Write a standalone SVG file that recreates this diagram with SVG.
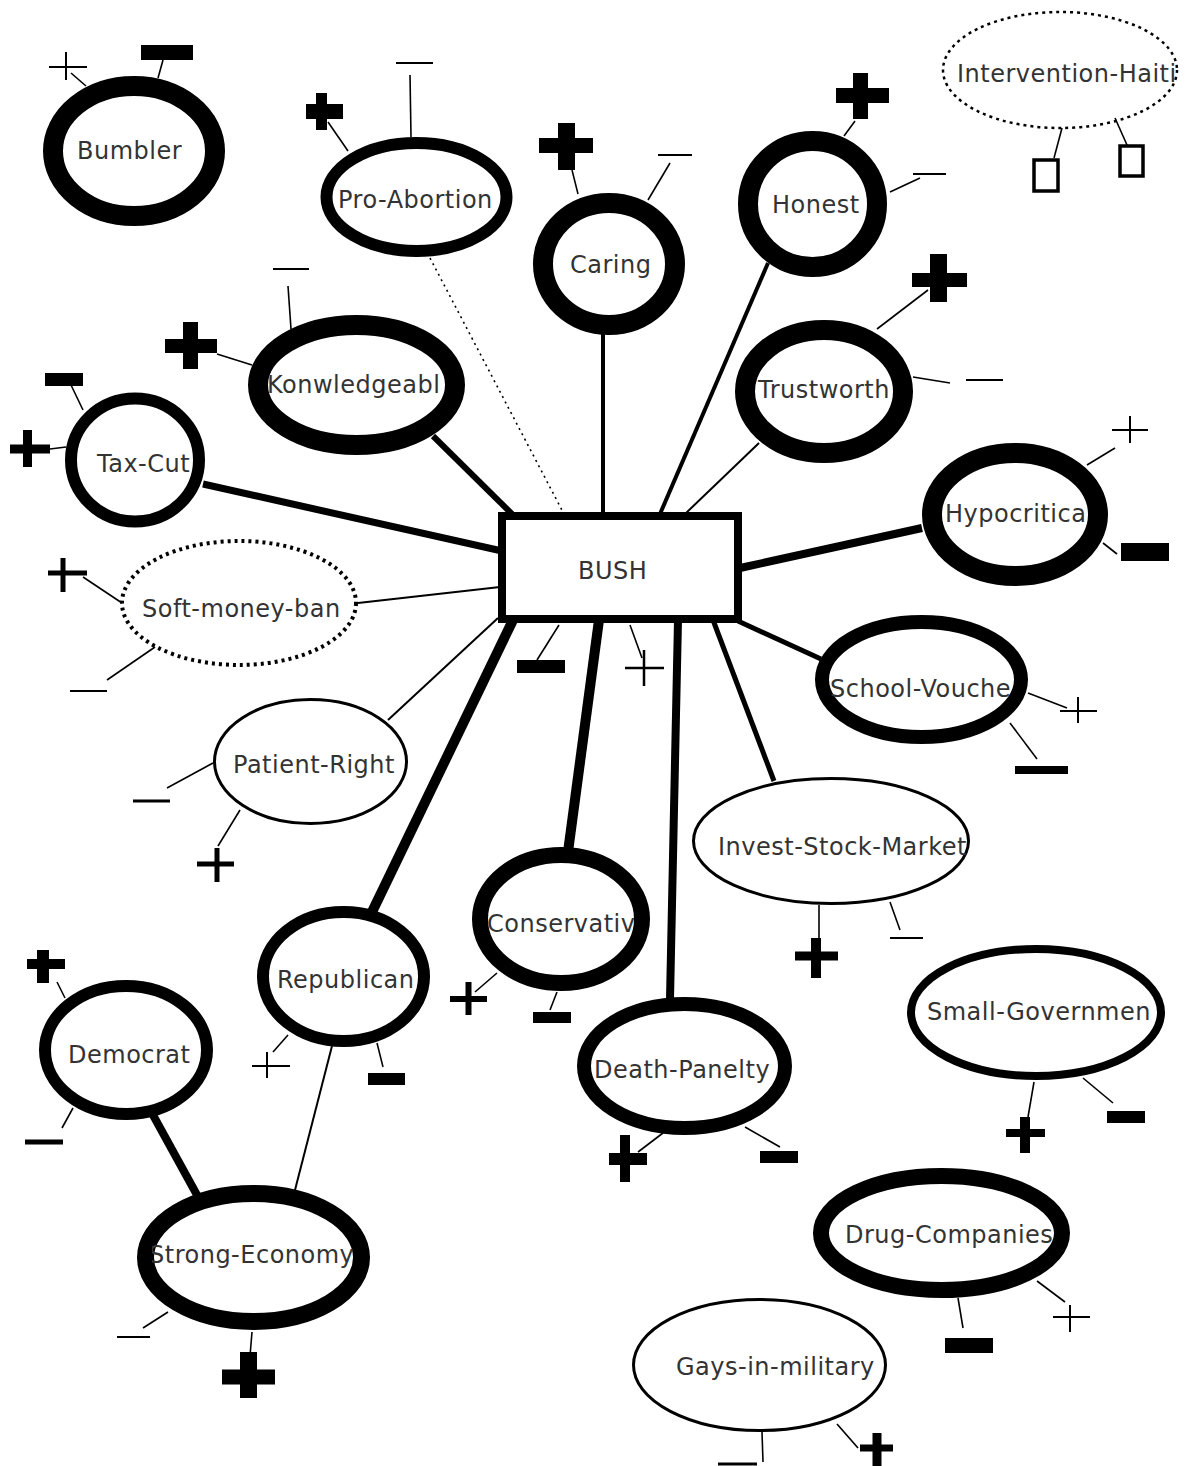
<svg xmlns="http://www.w3.org/2000/svg" width="1190" height="1466" viewBox="0 0 1190 1466">
<style>
.bg{fill:#fff}
.n{fill:#fff;stroke:#000}
.t{font-family:"DejaVu Sans","Liberation Sans",sans-serif;font-size:24px;letter-spacing:0.5px;fill:#333}
.c{stroke:#000;fill:none;stroke-linecap:butt}
.k{stroke:#000;fill:none;stroke-width:1.6}
.s{stroke:#000;fill:none;stroke-linecap:butt}
.box{fill:none;stroke:#000;stroke-width:3.5}
</style>
<defs>
<clipPath id="cpSE"><rect x="152" y="1200" width="220" height="120"/></clipPath>
<clipPath id="cpIS"><rect x="690" y="800" width="278" height="90"/></clipPath>
<clipPath id="cpDC"><rect x="820" y="1190" width="237" height="90"/></clipPath>
<clipPath id="cpIH"><rect x="940" y="40" width="240" height="70"/></clipPath>
</defs>
<rect class="bg" x="0" y="0" width="1190" height="1466"/>

<g id="connectors">
<line class="c" x1="203" y1="484" x2="502" y2="551" stroke-width="7"/>
<line class="c" x1="433" y1="436" x2="512" y2="514" stroke-width="6"/>
<line class="c" x1="430" y1="258" x2="564" y2="514" stroke-width="1.6" stroke-dasharray="2 4"/>
<line class="c" x1="603" y1="334" x2="603" y2="514" stroke-width="4"/>
<line class="c" x1="768" y1="263" x2="660" y2="514" stroke-width="4"/>
<line class="c" x1="759" y1="443" x2="685" y2="514" stroke-width="2"/>
<line class="c" x1="740" y1="568" x2="922" y2="528" stroke-width="8"/>
<line class="c" x1="358" y1="603" x2="500" y2="587" stroke-width="2"/>
<line class="c" x1="388" y1="720" x2="498" y2="618" stroke-width="2"/>
<line class="c" x1="513" y1="620" x2="372" y2="912" stroke-width="10"/>
<line class="c" x1="599" y1="620" x2="568" y2="852" stroke-width="10"/>
<line class="c" x1="678" y1="620" x2="670" y2="999" stroke-width="8"/>
<line class="c" x1="713" y1="620" x2="774" y2="781" stroke-width="5"/>
<line class="c" x1="738" y1="621" x2="821" y2="659" stroke-width="5"/>
<line class="c" x1="332" y1="1046" x2="295" y2="1190" stroke-width="2"/>
<line class="c" x1="153" y1="1115" x2="197" y2="1195" stroke-width="8"/>
</g>

<g id="bumbler">
<ellipse class="n" cx="134" cy="151" rx="81" ry="65" stroke-width="20"/>
<text class="t" x="77" y="159">Bumbler</text>
<path class="s" d="M49 67H87M66 52V80" stroke-width="2"/>
<line class="k" x1="71" y1="73" x2="86" y2="86"/>
<path class="s" d="M141 52.5H193" stroke-width="15"/>
<line class="k" x1="163" y1="60" x2="158" y2="78"/>
</g>

<g id="pro-abortion">
<ellipse class="n" cx="416.5" cy="197" rx="90" ry="54" stroke-width="12"/>
<text class="t" x="338" y="208">Pro-Abortion</text>
<path class="s" d="M306 111.5H343" stroke-width="15"/>
<path class="s" d="M321.5 93V130" stroke-width="11"/>
<line class="k" x1="328" y1="122" x2="348" y2="151"/>
<path class="s" d="M396 63H433" stroke-width="2"/>
<line class="k" x1="410" y1="75" x2="411" y2="137"/>
</g>

<g id="caring">
<ellipse class="n" cx="609" cy="264" rx="66" ry="61" stroke-width="20"/>
<text class="t" x="570" y="273">Caring</text>
<path class="s" d="M539 145.5H593" stroke-width="15"/>
<path class="s" d="M566.5 123V170" stroke-width="17"/>
<line class="k" x1="572" y1="170" x2="578" y2="194"/>
<path class="s" d="M658 155H692" stroke-width="2"/>
<line class="k" x1="670" y1="163" x2="648" y2="200"/>
</g>

<g id="honest">
<ellipse class="n" cx="812.5" cy="204" rx="64.5" ry="63" stroke-width="20"/>
<text class="t" x="772" y="213">Honest</text>
<path class="s" d="M836 95.5H889" stroke-width="15"/>
<path class="s" d="M860.5 73V119" stroke-width="15"/>
<line class="k" x1="855" y1="121" x2="844" y2="136"/>
<path class="s" d="M913 174H946" stroke-width="2"/>
<line class="k" x1="920" y1="178" x2="890" y2="192"/>
</g>

<g id="intervention-haiti">
<ellipse class="n" cx="1060" cy="70" rx="117" ry="58" stroke-width="2.5" stroke-dasharray="3 4"/>
<text class="t" x="957" y="82" clip-path="url(#cpIH)">Intervention-Haiti</text>
<rect class="box" x="1034" y="160" width="24" height="31"/>
<rect class="box" x="1120" y="146" width="23" height="30"/>
<line class="k" x1="1062" y1="128" x2="1054" y2="158"/>
<line class="k" x1="1115" y1="118" x2="1127" y2="145"/>
</g>

<g id="konwledgeable">
<ellipse class="n" cx="356.5" cy="385" rx="98.5" ry="60" stroke-width="20"/>
<text class="t" x="267" y="393">Konwledgeabl</text>
<path class="s" d="M165 346H217" stroke-width="14"/>
<path class="s" d="M190.5 322V369" stroke-width="15"/>
<line class="k" x1="217" y1="354" x2="252" y2="365"/>
<path class="s" d="M273 269H309" stroke-width="2"/>
<line class="k" x1="288" y1="286" x2="291" y2="329"/>
</g>

<g id="tax-cut">
<ellipse class="n" cx="135" cy="460" rx="64" ry="61.5" stroke-width="12"/>
<text class="t" x="97" y="472">Tax-Cut</text>
<path class="s" d="M45 379.5H83" stroke-width="13"/>
<line class="k" x1="71" y1="385" x2="83" y2="410"/>
<path class="s" d="M10 449H50M27.5 430V467" stroke-width="9"/>
<line class="k" x1="50" y1="449" x2="66" y2="447"/>
</g>

<g id="soft-money-ban">
<ellipse class="n" cx="239" cy="603" rx="117" ry="62" stroke-width="4" stroke-dasharray="3 4"/>
<text class="t" x="142" y="617">Soft-money-ban</text>
<path class="s" d="M48 573H87M63 558V592" stroke-width="5"/>
<line class="k" x1="83" y1="577" x2="122" y2="603"/>
<path class="s" d="M70 691H107" stroke-width="2"/>
<line class="k" x1="107" y1="680" x2="155" y2="647"/>
</g>

<g id="patient-right">
<ellipse class="n" cx="310.5" cy="761.5" rx="96" ry="62" stroke-width="3"/>
<text class="t" x="233" y="773">Patient-Right</text>
<path class="s" d="M133 801H170" stroke-width="3"/>
<line class="k" x1="167" y1="788" x2="213" y2="763"/>
<path class="s" d="M197 864H234M217 848V882" stroke-width="5"/>
<line class="k" x1="218" y1="846" x2="240" y2="810"/>
</g>

<g id="bush">
<rect class="n" x="502" y="516" width="236" height="103" stroke-width="8"/>
<text class="t" x="578" y="579">BUSH</text>
<path class="s" d="M517 666.5H565" stroke-width="13"/>
<line class="k" x1="537" y1="660" x2="559" y2="625"/>
<path class="s" d="M625 668H664M644 650V686" stroke-width="2.5"/>
<line class="k" x1="642" y1="658" x2="630" y2="625"/>
</g>

<g id="trustworth">
<ellipse class="n" cx="824" cy="391.5" rx="79" ry="61.5" stroke-width="20"/>
<text class="t" x="758" y="398">Trustworth</text>
<path class="s" d="M912 280H967" stroke-width="14"/>
<path class="s" d="M938.5 254V302" stroke-width="17"/>
<line class="k" x1="928" y1="290" x2="877" y2="329"/>
<path class="s" d="M966 380H1003" stroke-width="2"/>
<line class="k" x1="913" y1="377" x2="950" y2="383"/>
</g>

<g id="hypocritical">
<ellipse class="n" cx="1015" cy="514.5" rx="83" ry="61.5" stroke-width="20"/>
<text class="t" x="945" y="522">Hypocritica</text>
<path class="s" d="M1112 430H1148M1130 416V443" stroke-width="2"/>
<line class="k" x1="1115" y1="448" x2="1087" y2="465"/>
<path class="s" d="M1121 552H1169" stroke-width="18"/>
<line class="k" x1="1117" y1="554" x2="1103" y2="543"/>
</g>

<g id="school-voucher">
<ellipse class="n" cx="921.5" cy="679.5" rx="99.5" ry="57.5" stroke-width="14"/>
<text class="t" x="830" y="697">School-Vouche</text>
<path class="s" d="M1060 711H1097M1078 697V723" stroke-width="2"/>
<line class="k" x1="1028" y1="693" x2="1067" y2="708"/>
<path class="s" d="M1015 770H1068" stroke-width="8"/>
<line class="k" x1="1037" y1="759" x2="1010" y2="723"/>
</g>

<g id="invest-stock-market">
<ellipse class="n" cx="831" cy="841" rx="137.5" ry="62.5" stroke-width="3"/>
<text class="t" x="718" y="855" clip-path="url(#cpIS)">Invest-Stock-Market</text>
<path class="s" d="M795 956H838" stroke-width="9"/>
<path class="s" d="M816 938V978" stroke-width="10"/>
<line class="k" x1="819" y1="905" x2="819" y2="938" stroke-width="2"/>
<path class="s" d="M890 938H923" stroke-width="2"/>
<line class="k" x1="900" y1="930" x2="890" y2="902"/>
</g>

<g id="republican">
<ellipse class="n" cx="343.5" cy="976.5" rx="80.5" ry="64.5" stroke-width="12"/>
<text class="t" x="277" y="988">Republican</text>
<path class="s" d="M252 1066H290M267 1052V1078" stroke-width="2"/>
<line class="k" x1="273" y1="1052" x2="288" y2="1035"/>
<path class="s" d="M368 1079H405" stroke-width="12"/>
<line class="k" x1="383" y1="1067" x2="377" y2="1043"/>
</g>

<g id="democrat">
<ellipse class="n" cx="126" cy="1050" rx="81" ry="64" stroke-width="12"/>
<text class="t" x="68" y="1063">Democrat</text>
<path class="s" d="M27 964H65" stroke-width="10"/>
<path class="s" d="M43 950V983" stroke-width="12"/>
<line class="k" x1="57" y1="982" x2="65" y2="998"/>
<path class="s" d="M25 1142H63" stroke-width="5"/>
<line class="k" x1="62" y1="1128" x2="73" y2="1108"/>
</g>

<g id="strong-economy">
<ellipse class="n" cx="253.5" cy="1257.5" rx="108" ry="64" stroke-width="17"/>
<text class="t" x="149" y="1263" clip-path="url(#cpSE)">Strong-Economy</text>
<path class="s" d="M117 1337H150" stroke-width="2"/>
<line class="k" x1="143" y1="1328" x2="168" y2="1312"/>
<path class="s" d="M222 1377H275" stroke-width="15"/>
<path class="s" d="M248.5 1352V1398" stroke-width="17"/>
<line class="k" x1="252" y1="1332" x2="250" y2="1356"/>
</g>

<g id="conservativ">
<ellipse class="n" cx="561" cy="919" rx="81" ry="64" stroke-width="16"/>
<text class="t" x="487" y="932">Conservativ</text>
<path class="s" d="M450 999H487M468.5 982V1015" stroke-width="6"/>
<line class="k" x1="475" y1="992" x2="497" y2="973"/>
<path class="s" d="M533 1017.5H571" stroke-width="11"/>
<line class="k" x1="550" y1="1010" x2="557" y2="992"/>
</g>

<g id="death-panelty">
<ellipse class="n" cx="684.5" cy="1066" rx="100.5" ry="62" stroke-width="14"/>
<text class="t" x="594" y="1078">Death-Panelty</text>
<path class="s" d="M609 1159H647" stroke-width="12"/>
<path class="s" d="M625 1135V1182" stroke-width="10"/>
<line class="k" x1="638" y1="1152" x2="663" y2="1133"/>
<path class="s" d="M760 1157H798" stroke-width="12"/>
<line class="k" x1="780" y1="1147" x2="745" y2="1127"/>
</g>

<g id="small-government">
<ellipse class="n" cx="1036" cy="1012.5" rx="125" ry="63.5" stroke-width="8"/>
<text class="t" x="927" y="1020">Small-Governmen</text>
<path class="s" d="M1006 1133H1045" stroke-width="8"/>
<path class="s" d="M1025 1117V1153" stroke-width="10"/>
<line class="k" x1="1028" y1="1117" x2="1034" y2="1082"/>
<path class="s" d="M1107 1117H1145" stroke-width="12"/>
<line class="k" x1="1113" y1="1103" x2="1083" y2="1078"/>
</g>

<g id="drug-companies">
<ellipse class="n" cx="941.5" cy="1233" rx="120.5" ry="57" stroke-width="16"/>
<text class="t" x="845" y="1243" clip-path="url(#cpDC)">Drug-Companies</text>
<path class="s" d="M1053 1317H1090M1070 1305V1332" stroke-width="2"/>
<line class="k" x1="1065" y1="1302" x2="1037" y2="1281"/>
<path class="s" d="M945 1345.5H993" stroke-width="15"/>
<line class="k" x1="963" y1="1328" x2="958" y2="1298"/>
</g>

<g id="gays-in-military">
<ellipse class="n" cx="759.5" cy="1365" rx="126" ry="65.5" stroke-width="3"/>
<text class="t" x="676" y="1375">Gays-in-military</text>
<path class="s" d="M860 1448H893" stroke-width="7"/>
<path class="s" d="M877 1433V1466" stroke-width="9"/>
<line class="k" x1="858" y1="1448" x2="837" y2="1424"/>
<path class="s" d="M718 1464H757" stroke-width="3"/>
<line class="k" x1="762" y1="1432" x2="763" y2="1462"/>
</g>
</svg>
